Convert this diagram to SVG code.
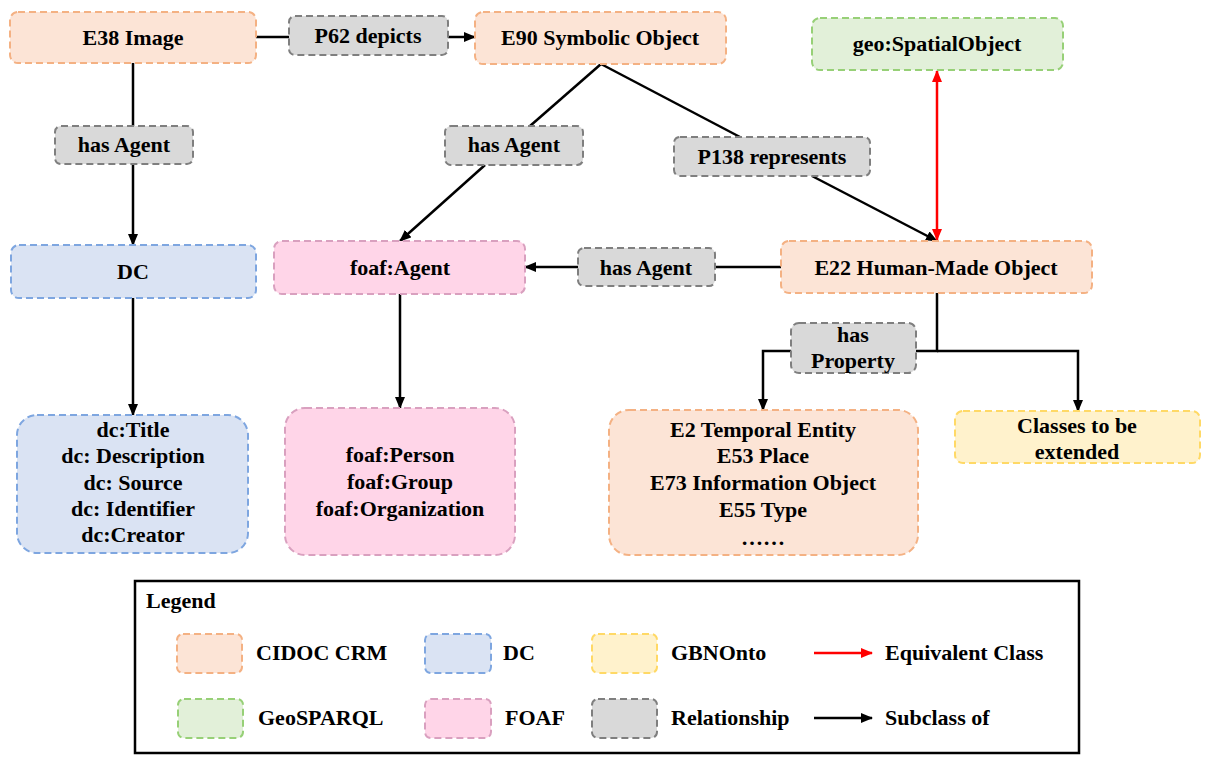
<svg xmlns="http://www.w3.org/2000/svg" width="1210" height="764" viewBox="0 0 1210 764">
<style>
text{font-family:"Liberation Serif","Times New Roman",serif;font-weight:bold;font-size:22px;fill:#000;text-anchor:middle}
.lt{text-anchor:start}
.n{stroke-width:2;stroke-dasharray:7 4}
.crm{fill:#FCE4D6;stroke:#F4B183}
.dc{fill:#DAE3F3;stroke:#7EA6E0}
.geo{fill:#E2F0D9;stroke:#97D077}
.foaf{fill:#FFD5E8;stroke:#D9A0BF}
.gb{fill:#FFF2CC;stroke:#FFD966}
.rel{fill:#D9D9D9;stroke:#7F7F7F}
.c{fill:none;stroke:#000;stroke-width:2.5}
.arr{marker-end:url(#ah)}
.red{fill:none;stroke:#FF0000;stroke-width:2.5}
</style>
<defs>
<marker id="ah" markerUnits="userSpaceOnUse" markerWidth="12" markerHeight="10" refX="11" refY="5" orient="auto"><path d="M0,0 L12,5 L0,10 z" fill="#000"/></marker>
<marker id="ahr" markerUnits="userSpaceOnUse" markerWidth="12" markerHeight="10" refX="11" refY="5" orient="auto-start-reverse"><path d="M0,0 L12,5 L0,10 z" fill="#FF0000"/></marker>
</defs>
<rect width="1210" height="764" fill="#fff"/>
<g id="connectors">
<line class="c" x1="256" y1="37" x2="289" y2="37"/>
<line class="c arr" x1="448" y1="37" x2="475" y2="37"/>
<line class="c" x1="133" y1="63" x2="133" y2="126"/>
<line class="c arr" x1="133" y1="164" x2="133" y2="245"/>
<line class="c arr" x1="133" y1="298" x2="133" y2="415"/>
<line class="c" x1="601" y1="64" x2="530" y2="126"/>
<line class="c arr" x1="485" y1="165" x2="400" y2="241"/>
<line class="c" x1="601" y1="64" x2="740" y2="137"/>
<line class="c arr" x1="812" y1="176" x2="937" y2="241"/>
<line class="red" x1="937" y1="71" x2="937" y2="240" marker-start="url(#ahr)" marker-end="url(#ahr)"/>
<line class="c" x1="781" y1="267" x2="715" y2="267"/>
<line class="c arr" x1="578" y1="267" x2="525" y2="267"/>
<line class="c arr" x1="400" y1="294" x2="400" y2="408"/>
<polyline class="c" points="937,293 937,351 916,351"/>
<polyline class="c arr" points="937,351 1078,351 1078,411"/>
<polyline class="c arr" points="791,351 763,351 763,410"/>
</g>
<g id="e38"><rect class="n crm" x="10" y="12" width="246" height="51" rx="8"/><text x="133" y="45">E38 Image</text></g>
<g id="p62"><rect class="n rel" x="289" y="16" width="159" height="39" rx="6"/><text x="368" y="43">P62 depicts</text></g>
<g id="e90"><rect class="n crm" x="475" y="12" width="251" height="52" rx="8"/><text x="600" y="45">E90 Symbolic Object</text></g>
<g id="geo"><rect class="n geo" x="812" y="18" width="251" height="52" rx="8"/><text x="937" y="51">geo:SpatialObject</text></g>
<g id="hasagent1"><rect class="n rel" x="55" y="126" width="138" height="38" rx="6"/><text x="124" y="152">has Agent</text></g>
<g id="hasagent2"><rect class="n rel" x="445" y="126" width="138" height="39" rx="6"/><text x="514" y="152">has Agent</text></g>
<g id="p138"><rect class="n rel" x="674" y="137" width="196" height="39" rx="6"/><text x="772" y="164">P138 represents</text></g>
<g id="dc"><rect class="n dc" x="11" y="245" width="245" height="53" rx="8"/><text x="133" y="279">DC</text></g>
<g id="foafagent"><rect class="n foaf" x="274" y="241" width="251" height="53" rx="8"/><text x="400" y="275">foaf:Agent</text></g>
<g id="hasagent3"><rect class="n rel" x="578" y="248" width="137" height="38" rx="6"/><text x="646" y="275">has Agent</text></g>
<g id="e22"><rect class="n crm" x="781" y="241" width="311" height="52" rx="8"/><text x="936" y="275">E22 Human-Made Object</text></g>
<g id="hasproperty"><rect class="n rel" x="791" y="323" width="125" height="50" rx="8"/><text x="853" y="342">has</text><text x="853" y="368">Property</text></g>
<g id="dclist"><rect class="n dc" x="17" y="415" width="231" height="138" rx="20"/><text x="133" y="437">dc:Title</text><text x="133" y="463">dc: Description</text><text x="133" y="490">dc: Source</text><text x="133" y="516">dc: Identifier</text><text x="133" y="542">dc:Creator</text></g>
<g id="foaflist"><rect class="n foaf" x="285" y="408" width="230" height="147" rx="20"/><text x="400" y="462">foaf:Person</text><text x="400" y="489">foaf:Group</text><text x="400" y="516">foaf:Organization</text></g>
<g id="crmlist"><rect class="n crm" x="609" y="410" width="309" height="145" rx="20"/><text x="763" y="437">E2 Temporal Entity</text><text x="763" y="463">E53 Place</text><text x="763" y="490">E73 Information Object</text><text x="763" y="517">E55 Type</text><text x="763" y="545">……</text></g>
<g id="classes"><rect class="n gb" x="955" y="411" width="245" height="52" rx="8"/><text x="1077" y="433">Classes to be</text><text x="1077" y="459">extended</text></g>
<g id="legend">
<rect x="135" y="581" width="944" height="172" fill="none" stroke="#000" stroke-width="2.5"/>
<text class="lt" x="146" y="608">Legend</text>
<rect class="n crm" x="177" y="634" width="65" height="39" rx="6"/><text class="lt" x="256" y="660">CIDOC CRM</text>
<rect class="n dc" x="425" y="634" width="66" height="39" rx="6"/><text class="lt" x="503" y="660">DC</text>
<rect class="n gb" x="592" y="634" width="65" height="39" rx="6"/><text class="lt" x="671" y="660">GBNOnto</text>
<line x1="814" y1="653" x2="872" y2="653" stroke="#FF0000" stroke-width="2.5" marker-end="url(#ahr)"/><text class="lt" x="885" y="660">Equivalent Class</text>
<rect class="n geo" x="178" y="699" width="65" height="39" rx="6"/><text class="lt" x="258" y="725">GeoSPARQL</text>
<rect class="n foaf" x="425" y="699" width="66" height="39" rx="6"/><text class="lt" x="505" y="725">FOAF</text>
<rect class="n rel" x="592" y="699" width="65" height="39" rx="6"/><text class="lt" x="671" y="725">Relationship</text>
<line class="c arr" x1="814" y1="718" x2="872" y2="718"/><text class="lt" x="885" y="725">Subclass of</text>
</g>
</svg>
